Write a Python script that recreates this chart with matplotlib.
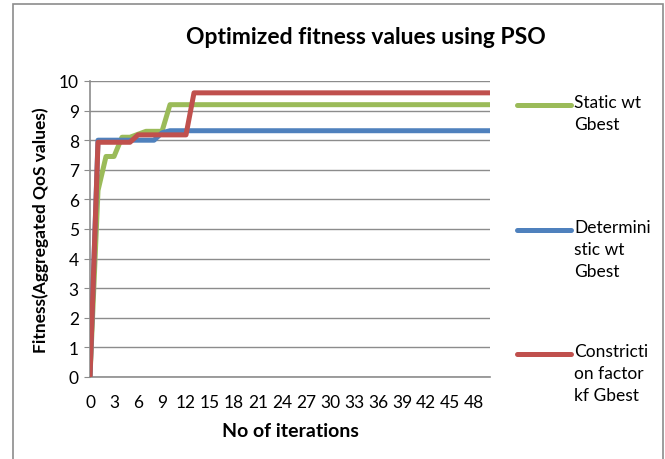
import matplotlib
matplotlib.use('Agg')
import matplotlib.pyplot as plt
from matplotlib.lines import Line2D
from matplotlib.patches import Rectangle

plt.rcParams['font.family'] = ['Lato', 'DejaVu Sans']

iterations = list(range(51))
tick_labels = [str(i) for i in range(0, 49, 3)]

static_wt = [0, 6.3, 7.45, 7.45, 8.1, 8.1, 8.2, 8.3, 8.3, 8.3,
             9.2, 9.2, 9.2, 9.2, 9.2, 9.2, 9.2, 9.2, 9.2, 9.2,
             9.2, 9.2, 9.2, 9.2, 9.2, 9.2, 9.2, 9.2, 9.2, 9.2,
             9.2, 9.2, 9.2, 9.2, 9.2, 9.2, 9.2, 9.2, 9.2, 9.2,
             9.2, 9.2, 9.2, 9.2, 9.2, 9.2, 9.2, 9.2, 9.2, 9.2, 9.2]
deterministic_wt = [0, 8.0, 8.0, 8.0, 8.0, 8.0, 8.0, 8.0, 8.0, 8.25,
                    8.32, 8.32, 8.32, 8.32, 8.32, 8.32, 8.32, 8.32, 8.32, 8.32,
                    8.32, 8.32, 8.32, 8.32, 8.32, 8.32, 8.32, 8.32, 8.32, 8.32,
                    8.32, 8.32, 8.32, 8.32, 8.32, 8.32, 8.32, 8.32, 8.32, 8.32,
                    8.32, 8.32, 8.32, 8.32, 8.32, 8.32, 8.32, 8.32, 8.32, 8.32, 8.32]
constriction = [0, 7.93, 7.93, 7.93, 7.93, 7.93, 8.18, 8.18, 8.18, 8.18,
                8.18, 8.18, 8.18, 9.6, 9.6, 9.6, 9.6, 9.6, 9.6, 9.6,
                9.6, 9.6, 9.6, 9.6, 9.6, 9.6, 9.6, 9.6, 9.6, 9.6,
                9.6, 9.6, 9.6, 9.6, 9.6, 9.6, 9.6, 9.6, 9.6, 9.6,
                9.6, 9.6, 9.6, 9.6, 9.6, 9.6, 9.6, 9.6, 9.6, 9.6, 9.6]

series = [
    (static_wt, '#9BBB59', 'Static wt\nGbest'),
    (deterministic_wt, '#4F81BD', 'Determini\nstic wt\nGbest'),
    (constriction, '#C0504D', 'Constricti\non factor\nkf Gbest'),
]

W, H = 665, 460
fig = plt.figure(figsize=(W / 100, H / 100), dpi=100)
fig.patch.set_facecolor('white')

# chart border
fig.add_artist(Rectangle((13 / W, 0 - 0.01), 650 / W, (H - 5) / H + 0.01,
                         transform=fig.transFigure, fill=False,
                         edgecolor='#8c8c8c', lw=1.2))

ax = fig.add_axes([90 / W, (H - 378) / H, 400 / W, 296 / H])

for vals, col, lab in series:
    ax.plot(iterations, vals, color=col, lw=3.6, solid_capstyle='butt',
            solid_joinstyle='round', zorder=3)

ax.set_xlim(0, 50)
ax.set_ylim(0, 10)
ax.set_yticks(range(0, 11))
ax.set_xticks(range(0, 49, 3))
ax.set_xticklabels(tick_labels)
ax.grid(axis='y', color='#8c8c8c', lw=1.0, zorder=1)
for s in ['top', 'right']:
    ax.spines[s].set_visible(False)
for s in ['left', 'bottom']:
    ax.spines[s].set_color('#8c8c8c')
    ax.spines[s].set_linewidth(1.2)
ax.tick_params(axis='y', length=4, color='#8c8c8c', labelsize=12.5, pad=4)
ax.tick_params(axis='x', length=0, labelsize=12.5, pad=12)

ax.set_title('Optimized fitness values using PSO', fontsize=16.5,
             fontweight='bold', x=0.69, y=1.0, pad=27)
ax.set_xlabel('No of iterations', fontsize=14, fontweight='bold', labelpad=9)
ax.set_ylabel('Fitness(Aggregated QoS values)', fontsize=12.5,
              fontweight='bold', labelpad=7)

# legend drawn by hand to mimic the wrapped Excel legend
leg_y = [106, 231, 355]
for (vals, col, lab), y in zip(series, leg_y):
    fy = (H - y) / H
    fig.add_artist(Line2D([517 / W, 571 / W], [fy, fy], color=col, lw=3.6,
                          solid_capstyle='round', transform=fig.transFigure))
    fig.text(574 / W, fy + 11 / H, lab, fontsize=12.5, va='top', ha='left',
             linespacing=1.45)

fig.savefig('out.png', dpi=100)
